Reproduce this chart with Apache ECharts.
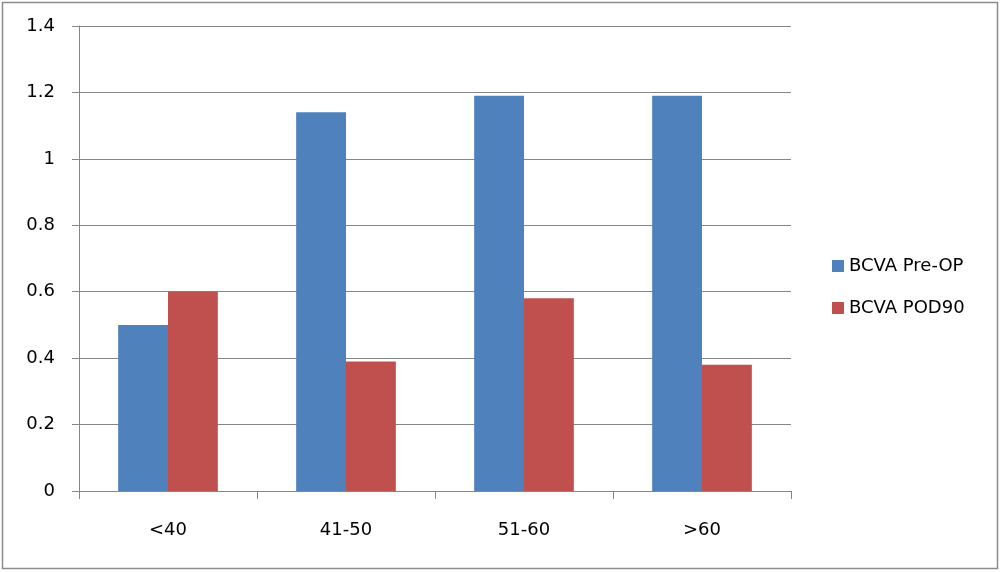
<!DOCTYPE html>
<html>
<head>
<meta charset="utf-8">
<script src="https://cdn.jsdelivr.net/npm/echarts@6/dist/echarts.min.js"></script>
<style>
html,body{margin:0;padding:0;background:#fff;}
#chart{width:1000px;height:572px;}
</style>
</head>
<body>
<div id="chart"></div>
<script>
const categories = ['<40', '41-50', '51-60', '>60'];
const preOp = [0.5, 1.14, 1.19, 1.19];
const pod90 = [0.6, 0.39, 0.58, 0.38];
const seriesNames = ['BCVA Pre-OP', 'BCVA POD90'];

const chart = echarts.init(document.getElementById('chart'));
const font = 'DejaVu Sans, Verdana, sans-serif';
chart.setOption({
  animation: false,
  backgroundColor: '#fff',
  textStyle: { fontFamily: font },
  graphic: [{
    type: 'rect',
    shape: { x: 2.5, y: 2.5, width: 995, height: 566 },
    style: { fill: 'none', stroke: '#8c8c8c', lineWidth: 1.5 },
    silent: true
  }],
  grid: { left: 79, right: 209, top: 26, bottom: 81 },
  legend: {
    orient: 'vertical',
    left: 827,
    top: 252,
    itemWidth: 12,
    itemHeight: 12,
    itemGap: 24,
    icon: 'rect',
    textStyle: { fontFamily: font, fontSize: 18, color: '#000' },
    data: seriesNames
  },
  xAxis: {
    type: 'category',
    data: categories,
    axisLine: { lineStyle: { color: '#868686', width: 1 } },
    axisTick: { show: true, length: 8, lineStyle: { color: '#868686' } },
    axisLabel: { fontFamily: font, fontSize: 18, color: '#000', margin: 30 }
  },
  yAxis: {
    type: 'value',
    min: 0,
    max: 1.4,
    interval: 0.2,
    axisLine: { show: true, lineStyle: { color: '#868686', width: 1 } },
    axisTick: { show: true, length: 7, lineStyle: { color: '#868686' } },
    axisLabel: { fontFamily: font, fontSize: 18, color: '#000', margin: 24 },
    splitLine: { lineStyle: { color: '#868686', width: 1 } }
  },
  series: [
    {
      name: seriesNames[0], type: 'bar', data: preOp,
      barGap: '0%', barCategoryGap: '44%',
      itemStyle: { color: '#4F81BD' }
    },
    {
      name: seriesNames[1], type: 'bar', data: pod90,
      itemStyle: { color: '#C0504D' }
    }
  ]
});
</script>
</body>
</html>
